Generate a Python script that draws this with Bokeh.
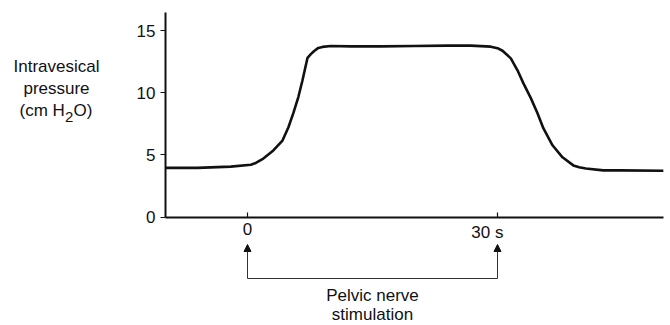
from bokeh.plotting import figure
from bokeh.models import Range1d, FixedTicker, Label, Arrow, NormalHead
from bokeh.embed import file_html
from bokeh.resources import INLINE

# ---- data ----
time_s = [-9.8, -6, -2, 0.4, 1.0, 1.9, 3.1, 4.2, 4.9, 5.5, 6.1, 6.6, 7.0, 7.2,
          7.6, 8.0, 8.5, 9.0, 10.0, 12.4, 16, 20, 24, 26.8, 29.2, 30.0, 30.6,
          31.6, 32.4, 33.1, 34.0, 34.8, 35.5, 36.6, 37.8, 39.1, 39.8, 40.6,
          42.7, 44.8, 49.9]
pressure = [3.95, 3.95, 4.05, 4.2, 4.35, 4.7, 5.35, 6.15, 7.2, 8.35, 9.65, 11.0,
            12.2, 12.8, 13.1, 13.35, 13.6, 13.68, 13.75, 13.72, 13.72, 13.75,
            13.78, 13.78, 13.7, 13.58, 13.37, 12.76, 11.8, 10.77, 9.56, 8.35,
            7.14, 5.77, 4.8, 4.15, 4.0, 3.9, 3.75, 3.75, 3.72]
y_ticks = [0, 5, 10, 15]
x_ticks = [0, 30]
x_tick_labels = {0: "0", 30: ""}
x_unit_label = "30 s"
stim_window = [0, 30]
y_label_lines = ["Intravesical", "pressure"]
stim_label_lines = ["Pelvic nerve", "stimulation"]

# ---- layout (page pixels -> data) ----
W, H = 670, 325
PX0, PX30 = 247.0, 497.0        # page x of t=0 and t=30 s
PY0, PY15 = 216.5, 30.0         # page y of 0 and 15 cmH2O
SX = (PX30 - PX0) / 30.0
SY = (PY0 - PY15) / 15.0
TXT_SHIFT = 6                   # renderer draws alphabetic baseline ~6px low


def dx(page_x):
    return (page_x - PX0) / SX


def dy(page_y):
    return (PY0 - page_y) / SY


def dyt(page_y):
    return dy(page_y - TXT_SHIFT)


AX_LEFT, AX_RIGHT, AX_TOP = dx(165), dx(663), dy(12)
FONT = "Liberation Sans"
INK = "#111111"

p = figure(width=W, height=H, x_range=Range1d(dx(0), dx(W)),
           y_range=Range1d(dy(H), dy(0)),
           output_backend="svg", toolbar_location=None,
           min_border=0, min_border_left=0, min_border_right=0,
           min_border_top=0, min_border_bottom=0)
p.outline_line_color = None
p.grid.visible = False
p.background_fill_color = "white"
p.border_fill_color = "white"

p.line(time_s, pressure, line_color=INK, line_width=2.6, line_join="round")

for ax in (p.xaxis[0], p.yaxis[0]):
    ax.axis_line_color = INK
    ax.axis_line_width = 2
    ax.major_tick_line_color = INK
    ax.major_tick_line_width = 1.2
    ax.minor_tick_line_color = None
    ax.major_label_text_font = FONT
    ax.major_label_text_font_size = "17px"
    ax.major_label_text_color = INK

p.yaxis.fixed_location = AX_LEFT
p.yaxis.bounds = (0, AX_TOP)
p.yaxis.ticker = FixedTicker(ticks=y_ticks)
p.yaxis.major_tick_out = 5
p.yaxis.major_tick_in = 0
p.yaxis.major_label_standoff = 5

p.xaxis.fixed_location = 0
p.xaxis.bounds = (AX_LEFT, AX_RIGHT)
p.xaxis.ticker = FixedTicker(ticks=x_ticks)
p.xaxis.major_label_overrides = x_tick_labels
p.xaxis.major_tick_out = 0
p.xaxis.major_tick_in = 5
p.xaxis.major_label_standoff = 6

# "30 s" sits slightly left of its tick, as in the reference
p.add_layout(Label(x=dx(503), y=dyt(238), text=x_unit_label, text_font=FONT,
                   text_font_size="17px", text_color=INK,
                   text_align="right", text_baseline="alphabetic"))

# y-axis title (horizontal, three lines)
for i, line in enumerate(y_label_lines):
    p.add_layout(Label(x=dx(56), y=dyt(72 + 22 * i), text=line, text_font=FONT,
                       text_font_size="17px", text_color=INK,
                       text_align="center", text_baseline="alphabetic"))
# (cm H2O) with subscript 2
base = dyt(116)
p.add_layout(Label(x=dx(19), y=base, text="(cm H", text_font=FONT,
                   text_font_size="17px", text_color=INK,
                   text_align="left", text_baseline="alphabetic"))
p.add_layout(Label(x=dx(64.5), y=dyt(122), text="2", text_font=FONT,
                   text_font_size="15px", text_color=INK,
                   text_align="left", text_baseline="alphabetic"))
p.add_layout(Label(x=dx(73), y=base, text="O)", text_font=FONT,
                   text_font_size="17px", text_color=INK,
                   text_align="left", text_baseline="alphabetic"))

# stimulation bracket
y_bar = dy(278)
y_tip = dy(244)
for xs in stim_window:
    p.add_layout(Arrow(x_start=xs, y_start=y_bar, x_end=xs, y_end=y_tip,
                       line_color="#333333", line_width=1,
                       end=NormalHead(size=7, fill_color=INK, line_color=INK,
                                      line_width=1)))
p.add_layout(Arrow(x_start=stim_window[0], y_start=y_bar, x_end=stim_window[1],
                   y_end=y_bar, line_color="#333333", line_width=1, end=None))

xc = (stim_window[0] + stim_window[1]) / 2
for i, line in enumerate(stim_label_lines):
    p.add_layout(Label(x=xc, y=dyt(301 + 19 * i), text=line, text_font=FONT,
                       text_font_size="17px", text_color=INK,
                       text_align="center", text_baseline="alphabetic"))

open("out.html", "w").write(file_html(p, INLINE))
